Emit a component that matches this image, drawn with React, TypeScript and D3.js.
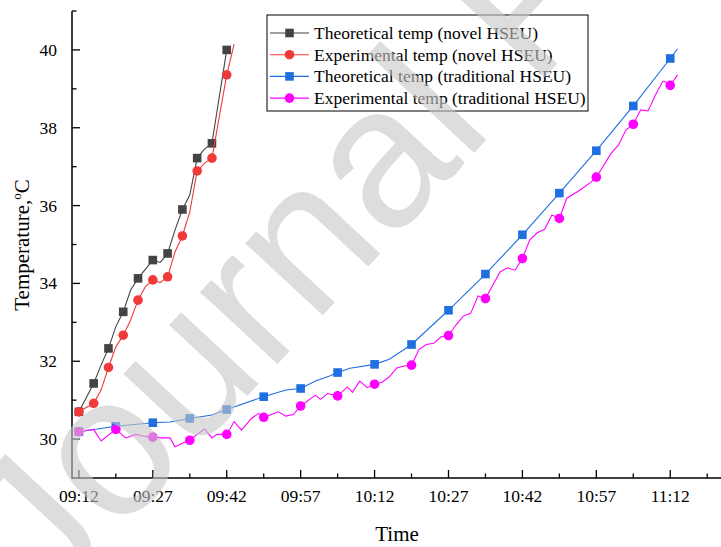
import React, { useEffect, useRef } from "react";
import * as d3 from "d3";

// time is minutes after 09:12
const novelTheoTime = [0, 3, 4.5, 6, 7.5, 9, 10.5, 12, 15, 16.5, 18, 19.5, 21, 22.5, 24, 25.5, 27, 30];
const novelTheoTemp = [30.7, 31.43, 31.9, 32.33, 32.89, 33.27, 33.83, 34.13, 34.6, 34.54, 34.77, 35.37, 35.9, 36.27, 37.22, 37.45, 37.6, 40.0];

const novelExpTime = [0, 3, 4.5, 6, 7.5, 9, 10.5, 12, 13.5, 15, 16.5, 18, 19.5, 21, 22.5, 24, 25.5, 27, 30, 31.5];
const novelExpTemp = [30.7, 30.92, 31.26, 31.84, 32.37, 32.67, 33.06, 33.57, 33.92, 34.09, 34.02, 34.17, 34.81, 35.22, 35.84, 36.89, 37.09, 37.22, 39.36, 40.15];

const tradTheoTime = [0, 7.5, 15, 18.5, 22.5, 27, 30, 37.5, 42, 45, 48, 51, 52.5, 55, 60, 63, 67.5, 75, 82.5, 90, 97.5, 105, 112.5, 120, 121.5];
const tradTheoTemp = [30.19, 30.33, 30.42, 30.44, 30.53, 30.62, 30.76, 31.09, 31.26, 31.3, 31.49, 31.63, 31.71, 31.82, 31.92, 32.05, 32.43, 33.31, 34.24, 35.25, 36.32, 37.41, 38.56, 39.78, 40.03];

const tradExpTime = [
  0, 3, 4.5, 7.5, 9.5, 11.5, 13, 15, 17, 18.5, 19.5, 21, 22.5, 24, 25.5, 27, 28, 30, 31.5, 33, 35, 36.5, 37.5,
  40.5, 42, 43.5, 45, 48, 49, 50.5, 52.5, 54.5, 55.5, 57, 58.5, 60, 61.5, 63, 64.5, 66, 67.5, 69, 70.5, 72,
  73.5, 75, 76.5, 78, 79.5, 81, 82.5, 84, 85.5, 87, 88.5, 90, 91.5, 93, 94.5, 96, 97.5, 99, 101.5, 104, 105,
  108, 109.5, 111, 112.5, 114, 115.5, 117, 118.5, 119.5, 120, 121.5,
];
const tradExpTemp = [
  30.19, 30.25, 29.95, 30.25, 30.03, 30.12, 30.08, 30.05, 30.03, 30.03, 29.8, 29.89, 29.97, 30.12, 30.26, 30.03,
  30.12, 30.12, 30.45, 30.23, 30.53, 30.66, 30.56, 30.7, 30.59, 30.63, 30.85, 31.13, 31.02, 31.17, 31.11, 31.34,
  31.2, 31.49, 31.32, 31.41, 31.46, 31.6, 31.83, 31.88, 31.9, 32.3, 32.43, 32.46, 32.63, 32.66, 32.93, 33.16,
  33.23, 33.68, 33.61, 33.96, 34.3, 34.4, 34.34, 34.64, 35.12, 35.3, 35.39, 35.76, 35.67, 36.19, 36.38, 36.61,
  36.73, 37.34, 37.56, 37.94, 38.09, 38.46, 38.43, 38.84, 39.2, 39.16, 39.09, 39.36,
];

const xTickLabels = ["09:12", "09:27", "09:42", "09:57", "10:12", "10:27", "10:42", "10:57", "11:12"];
const yTickValues = [30, 32, 34, 36, 38, 40];

const seriesNames = [
  "Theoretical temp (novel HSEU)",
  "Experimental temp (novel HSEU)",
  "Theoretical temp (traditional HSEU)",
  "Experimental temp (traditional HSEU)",
];

export default function App() {
  const ref = useRef<SVGSVGElement>(null);

  useEffect(() => {
    document.body.style.margin = "0";
    const width = 721;
    const svg = d3.select(ref.current);
    svg.selectAll("*").remove();

    const font = "'Liberation Serif', 'Times New Roman', serif";
    const x = d3.scaleLinear().domain([-1.4, 130.3]).range([72, 721]);
    const y = d3.scaleLinear().domain([29, 41]).range([478, 11]);

    const series = [
      { name: seriesNames[0], t: novelTheoTime, v: novelTheoTemp, color: "#444444", shape: "square", step: 3 },
      { name: seriesNames[1], t: novelExpTime, v: novelExpTemp, color: "#f03a3a", shape: "circle", step: 3 },
      { name: seriesNames[2], t: tradTheoTime, v: tradTheoTemp, color: "#1f6fe0", shape: "square", step: 7.5 },
      { name: seriesNames[3], t: tradExpTime, v: tradExpTemp, color: "#ff00ff", shape: "circle", step: 7.5 },
    ];

    // axes
    const axis = svg.append("g").attr("stroke", "#000");
    axis.append("line").attr("x1", 72).attr("x2", 72).attr("y1", y(41)).attr("y2", y(29) + 0.75).attr("stroke-width", 1.5);
    axis.append("line").attr("x1", 72).attr("x2", width).attr("y1", y(29)).attr("y2", y(29)).attr("stroke-width", 1.5);

    const xMajor = d3.range(0, 121, 15);
    const xMinor = d3.range(7.5, 130, 15);
    axis.selectAll(".xmaj").data(xMajor).join("line")
      .attr("x1", (d) => x(d)).attr("x2", (d) => x(d))
      .attr("y1", y(29)).attr("y2", y(29) - 8).attr("stroke-width", 1.3);
    axis.selectAll(".xmin").data(xMinor).join("line")
      .attr("x1", (d) => x(d)).attr("x2", (d) => x(d))
      .attr("y1", y(29)).attr("y2", y(29) - 4.5).attr("stroke-width", 1.3);

    const yMinor = [31, 33, 35, 37, 39, 41];
    axis.selectAll(".ymaj").data(yTickValues).join("line")
      .attr("x1", 72).attr("x2", 80).attr("y1", (d) => y(d)).attr("y2", (d) => y(d)).attr("stroke-width", 1.3);
    axis.selectAll(".ymin").data(yMinor).join("line")
      .attr("x1", 72).attr("x2", 76.5).attr("y1", (d) => y(d)).attr("y2", (d) => y(d)).attr("stroke-width", 1.3);

    svg.append("g").selectAll("text").data(xMajor).join("text")
      .attr("x", (d) => x(d)).attr("y", 502)
      .attr("text-anchor", "middle").attr("font-family", font).attr("font-size", 17.5)
      .text((d, i) => xTickLabels[i]);

    svg.append("g").selectAll("text").data(yTickValues).join("text")
      .attr("x", 57).attr("y", (d) => y(d) + 6)
      .attr("text-anchor", "end").attr("font-family", font).attr("font-size", 17.5)
      .text((d) => String(d));

    svg.append("text").attr("x", 397).attr("y", 541).attr("text-anchor", "middle")
      .attr("font-family", font).attr("font-size", 21).text("Time");

    const yt = svg.append("text").attr("transform", "translate(29,245) rotate(-90)")
      .attr("text-anchor", "middle").attr("font-family", font).attr("font-size", 21);
    yt.append("tspan").text("Temperature,");
    yt.append("tspan").attr("font-size", 13).attr("dy", -8).text("o");
    yt.append("tspan").attr("dy", 8).text("C");

    // series
    const line = d3.line<[number, number]>().x((d) => x(d[0])).y((d) => y(d[1]));
    const drawMarker = (g: any, shape: string, color: string, cx: number, cy: number) => {
      if (shape === "square") {
        g.append("rect").attr("x", cx - 4.3).attr("y", cy - 4.3).attr("width", 8.6).attr("height", 8.6).attr("fill", color);
      } else {
        g.append("circle").attr("cx", cx).attr("cy", cy).attr("r", 4.8).attr("fill", color);
      }
    };

    series.forEach((s) => {
      const pts: [number, number][] = s.t.map((t, i) => [t, s.v[i]]);
      const g = svg.append("g");
      g.append("path").attr("d", line(pts)).attr("fill", "none").attr("stroke", s.color).attr("stroke-width", 1.1);
      pts.filter((p) => p[0] % s.step === 0).forEach((p) => drawMarker(g, s.shape, s.color, x(p[0]), y(p[1])));
    });

    // legend
    const lg = svg.append("g");
    lg.append("rect").attr("x", 267).attr("y", 15).attr("width", 321).attr("height", 96)
      .attr("fill", "#fff").attr("stroke", "#000").attr("stroke-width", 1);
    series.forEach((s, i) => {
      const cy = 33 + i * 21.7;
      lg.append("line").attr("x1", 270).attr("x2", 309).attr("y1", cy).attr("y2", cy)
        .attr("stroke", s.color).attr("stroke-width", 1.1);
      drawMarker(lg, s.shape, s.color, 289.5, cy);
      lg.append("text").attr("x", 314).attr("y", cy + 6)
        .attr("font-family", font).attr("font-size", 17.5).text(s.name);
    });

    // watermark
    svg.append("text").attr("transform", "translate(48,610) rotate(-47)")
      .attr("font-family", "'Liberation Sans', Arial, sans-serif").attr("font-size", 200)
      .attr("fill", "#c8c8c8").attr("opacity", 0.6).text("Journal Pre-proof");
  }, []);

  return <svg ref={ref} width={721} height={547} style={{ display: "block", background: "#fff" }} />;
}
